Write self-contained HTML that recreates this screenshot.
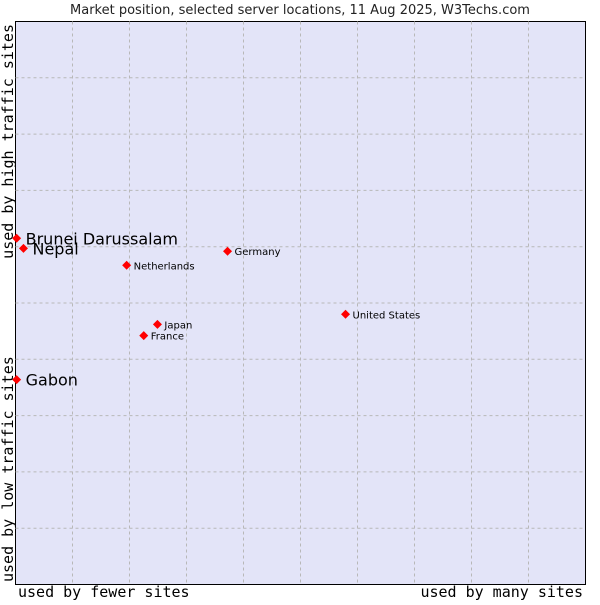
<!DOCTYPE html>
<html><head><meta charset="utf-8"><style>
body{margin:0;background:#fff;width:600px;height:600px;overflow:hidden}
svg text{font-family:"DejaVu Sans","Liberation Sans",sans-serif}
.mono{font-family:"DejaVu Sans Mono","Liberation Mono",monospace}
</style></head><body>
<svg id="c" width="600" height="600">
<text x="300" y="14" text-anchor="middle" font-size="13" fill="#222">Market position, selected server locations, 11 Aug 2025, W3Techs.com</text>
<rect x="15.5" y="21.5" width="570" height="563" fill="#e3e4f8" stroke="#000"/>
<g id="grid"></g>
<text class="mono" x="18" y="597" font-size="15" fill="#000">used by fewer sites</text>
<text class="mono" x="583" y="597" font-size="15" fill="#000" text-anchor="end">used by many sites</text>
<text class="mono" transform="translate(13,582) rotate(-90)" font-size="15" fill="#000">used by low traffic sites</text>
<text class="mono" transform="translate(13,24) rotate(-90)" font-size="15" fill="#000" text-anchor="end">used by high traffic sites</text>
<g id="pts"></g>
</svg>
<script>
const countries=["Brunei Darussalam","Nepal","Gabon","Netherlands","Germany","United States","Japan","France"];
const xVals=[0.2,1.4,0.2,19.5,37.2,57.9,24.9,22.5];
const yVals=[61.5,59.7,36.4,56.7,59.2,48.0,46.2,44.2];
const bigLabel=[true,true,true,false,false,false,false,false];
const L=15.5,T=21.5,W=570,H=563;
const sx=v=>L+v/100*W, sy=v=>T+H-v/100*H;
const NS="http://www.w3.org/2000/svg";
const g=document.getElementById('grid');
for(let i=1;i<10;i++){
 const v=document.createElementNS(NS,'line');
 v.setAttribute('x1',sx(i*10));v.setAttribute('x2',sx(i*10));v.setAttribute('y1',T);v.setAttribute('y2',T+H);
 v.setAttribute('stroke','#b8b8b8');v.setAttribute('stroke-dasharray','3,3');
 
 
 g.appendChild(v);
 const h=document.createElementNS(NS,'line');
 h.setAttribute('y1',sy(i*10));h.setAttribute('y2',sy(i*10));h.setAttribute('x1',L);h.setAttribute('x2',L+W);
 h.setAttribute('stroke','#b8b8b8');h.setAttribute('stroke-dasharray','3,3');
 
 
 g.appendChild(h);
}
const p=document.getElementById('pts');
countries.forEach((c,i)=>{
 const x=sx(xVals[i]),y=sy(yVals[i]);
 const d=document.createElementNS(NS,'polygon');
 d.setAttribute('points',`${x},${y-4.5} ${x+4.5},${y} ${x},${y+4.5} ${x-4.5},${y}`);
 d.setAttribute('fill','#f00');
 
 
 p.appendChild(d);
 const t=document.createElementNS(NS,'text');
 t.setAttribute('x',x+(bigLabel[i]?9:7));t.setAttribute('y',y+(bigLabel[i]?6:4));
 t.setAttribute('font-size',bigLabel[i]?'16':'10');
 t.textContent=c;
 
 
 p.appendChild(t);
});
</script>
</body></html>
